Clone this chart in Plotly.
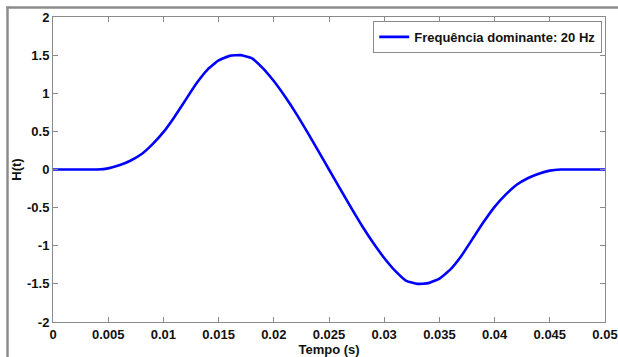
import plotly.graph_objects as go

# Time samples (s) and wavelet amplitude H(t)
tempo = [0.000, 0.001, 0.002, 0.003, 0.004, 0.005, 0.006, 0.007, 0.008, 0.009,
         0.010, 0.011, 0.012, 0.013, 0.014, 0.015, 0.016, 0.017, 0.018, 0.019,
         0.020, 0.021, 0.022, 0.023, 0.024, 0.025, 0.026, 0.027, 0.028, 0.029,
         0.030, 0.031, 0.032, 0.033, 0.034, 0.035, 0.036, 0.037, 0.038, 0.039,
         0.040, 0.041, 0.042, 0.043, 0.044, 0.045, 0.046, 0.047, 0.048, 0.049,
         0.050]
h_t = [0.0, 0.0, 0.0, 0.0, 0.0, 0.015, 0.055, 0.115, 0.20, 0.33,
       0.49, 0.69, 0.91, 1.13, 1.31, 1.43, 1.49, 1.50, 1.46, 1.33,
       1.16, 0.96, 0.74, 0.50, 0.25, 0.0, -0.25, -0.50, -0.74, -0.96,
       -1.16, -1.33, -1.46, -1.50, -1.49, -1.43, -1.31, -1.13, -0.91, -0.69,
       -0.49, -0.33, -0.20, -0.115, -0.055, -0.015, 0.0, 0.0, 0.0, 0.0,
       0.0]

series_name = "Frequência dominante: 20 Hz"
x_ticks = [0, 0.005, 0.01, 0.015, 0.02, 0.025, 0.03, 0.035, 0.04, 0.045, 0.05]
x_tick_labels = ["0", "0.005", "0.01", "0.015", "0.02", "0.025", "0.03", "0.035", "0.04", "0.045", "0.05"]
y_ticks = [-2, -1.5, -1, -0.5, 0, 0.5, 1, 1.5, 2]
y_tick_labels = ["-2", "-1.5", "-1", "-0.5", "0", "0.5", "1", "1.5", "2"]

W, H = 618, 357
L, R, T, B = 53, 13, 17, 35
pw, ph = W - L - R, H - T - B

def px(x):
    return (x - L) / pw

def py(y):
    return (H - B - y) / ph

font_family = "Liberation Sans, Arial, sans-serif"
axis_color = "#8a8a8a"

fig = go.Figure()
fig.add_trace(go.Scatter(
    x=tempo, y=h_t, mode="lines", name=series_name,
    line=dict(color="#0000ff", width=2.6, shape="spline", smoothing=0.4),
))

axis_common = dict(
    showgrid=False, zeroline=False, showline=True, linecolor=axis_color,
    linewidth=1, mirror="ticks", ticks="inside", ticklen=5, tickcolor=axis_color,
    tickfont=dict(family=font_family, size=13, color="#111", weight="bold"),
    automargin=False,
)

fig.update_layout(
    width=W, height=H,
    margin=dict(l=L, r=R, t=T, b=B, autoexpand=False),
    paper_bgcolor="white", plot_bgcolor="white",
    font=dict(family=font_family, size=13, color="#111"),
    xaxis=dict(
        range=[0, 0.05], tickmode="array", tickvals=x_ticks, ticktext=x_tick_labels,
        title=dict(text="Tempo (s)", standoff=2,
                   font=dict(family=font_family, size=13, color="#111", weight="bold")),
        **axis_common,
    ),
    yaxis=dict(
        range=[-2, 2], tickmode="array", tickvals=y_ticks, ticktext=y_tick_labels,
        title=dict(text="H(t)", standoff=2,
                   font=dict(family=font_family, size=13, color="#111", weight="bold")),
        **axis_common,
    ),
    showlegend=True,
    legend=dict(
        x=0.995, y=0.987, xanchor="right", yanchor="top",
        bgcolor="white", bordercolor=axis_color, borderwidth=1,
        font=dict(family=font_family, size=13, color="#111", weight="bold"),
        itemwidth=30, tracegroupgap=0,
    ),
    shapes=[
        dict(type="line", xref="paper", yref="paper",
             x0=px(7.5), x1=px(7.5), y0=py(6.5), y1=py(357),
             line=dict(color="#8c8c8c", width=2.5)),
        dict(type="line", xref="paper", yref="paper",
             x0=px(6.5), x1=px(618), y0=py(7.5), y1=py(7.5),
             line=dict(color="#8c8c8c", width=2.5)),
    ],
)

fig.write_html("out.html")
